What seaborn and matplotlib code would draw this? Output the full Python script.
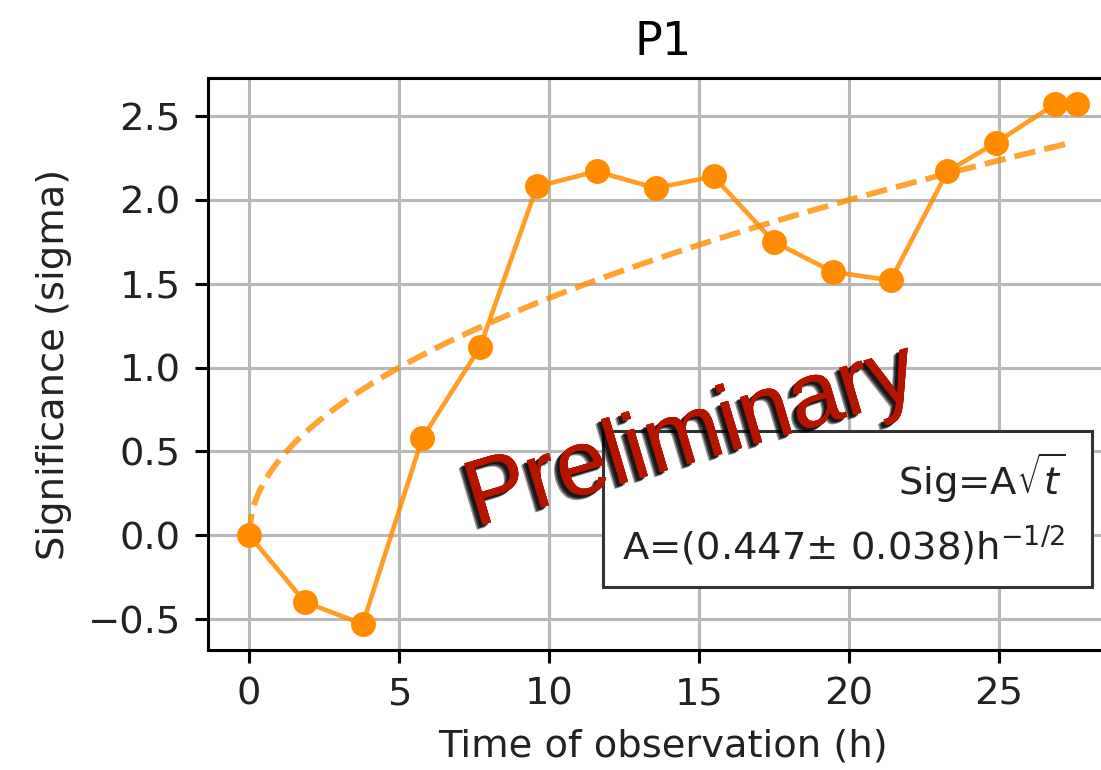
import numpy as np
import matplotlib
matplotlib.use("Agg")
import matplotlib.pyplot as plt
import matplotlib.patheffects as pe
from matplotlib.lines import Line2D
import seaborn as sns

# ---- data ----
time_h = [0.0, 1.87, 3.79, 5.78, 7.70, 9.60, 11.59, 13.56, 15.49, 17.50,
          19.48, 21.40, 23.29, 24.90, 26.87, 27.60]
significance = [0.0, -0.40, -0.53, 0.58, 1.12, 2.08, 2.17, 2.07, 2.14, 1.75,
                1.57, 1.52, 2.17, 2.34, 2.57, 2.57]
fit_A = 0.447
fit_A_err = 0.038
fit_t_max = 27.25

title = "P1"
xlabel = "Time of observation (h)"
ylabel = "Significance (sigma)"
legend_labels = [r"Sig=A$\sqrt{t}$",
                 r"A=(%.3f$\pm$ %.3f)h$^{-1/2}$" % (fit_A, fit_A_err)]
watermark = "Preliminary"

# ---- figure ----
DPI = 277
fig = plt.figure(figsize=(1101 / DPI, 770 / DPI), dpi=DPI)
ax = fig.add_axes([0.18865, 0.1558, 0.8268, 0.7425])

orange = "#FF8C00"
sns.lineplot(x=time_h, y=significance, ax=ax, color=orange,
             linewidth=1.2, alpha=0.85)
sns.scatterplot(x=time_h, y=significance, ax=ax, color=orange,
                s=42, linewidth=0, zorder=3)

t_fit = np.linspace(0, fit_t_max, 300)
sns.lineplot(x=t_fit, y=fit_A * np.sqrt(t_fit), ax=ax, color=orange,
             linestyle="--", linewidth=1.5, alpha=0.8)

ax.grid(True, color="#b8b8b8", linewidth=0.8)
ax.set_axisbelow(True)
ax.set_title(title, fontsize=12)
ax.set_xlabel(xlabel, fontsize=10, color="#222222")
ax.set_ylabel(ylabel, fontsize=10, color="#222222")
ax.set_xticks([0, 5, 10, 15, 20, 25])
ax.set_yticks([-0.5, 0.0, 0.5, 1.0, 1.5, 2.0, 2.5])
ax.tick_params(labelcolor="#222222")

handles = [Line2D([], [], linestyle="none") for _ in legend_labels]
leg = ax.legend(handles, legend_labels, loc="lower right",
                bbox_to_anchor=(1091.7 / 1101, 1 - 587.3 / 770),
                bbox_transform=fig.transFigure, borderaxespad=0,
                markerfirst=False, handlelength=0, handletextpad=0.2,
                borderpad=0.5,
                fancybox=False, framealpha=1.0, edgecolor="#333333",
                fontsize=10)
leg.get_frame().set_linewidth(0.8)
for t in leg.get_texts():
    t.set_color("#222222")

shadows = [pe.withSimplePatchShadow(offset=o, shadow_rgbFace="black", alpha=a)
           for o, a in [((-1.5, -1.3), 0.4), ((-1.2, -1.0), 0.55),
                        ((-0.8, -0.7), 0.65)]]
ax.text(14.75, 0.58, watermark, fontsize=24.2, family="Liberation Sans",
        color="#B41400", rotation=16.5, rotation_mode="anchor",
        ha="center", va="center", zorder=10,
        path_effects=shadows + [pe.Normal()])

fig.savefig("out.png", dpi=DPI)
